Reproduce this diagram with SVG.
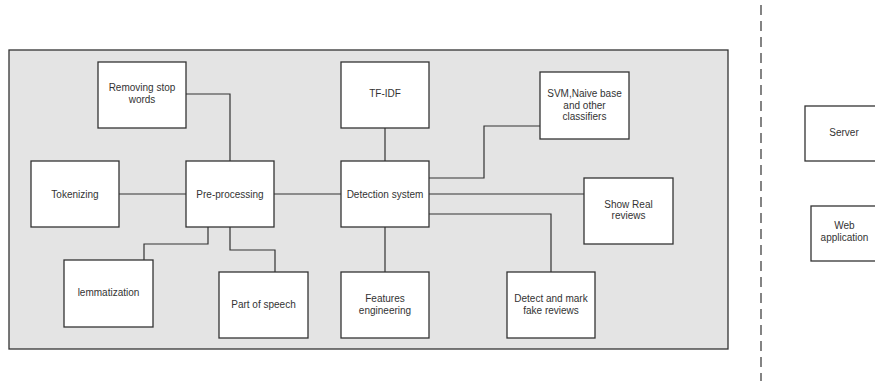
<svg xmlns="http://www.w3.org/2000/svg" width="875" height="381" viewBox="0 0 875 381">
  <style>
    .box { fill: #ffffff; stroke: #333333; stroke-width: 1.3; }
    .frame { fill: #e4e4e4; stroke: #333333; stroke-width: 1.3; }
    .wire { fill: none; stroke: #333333; stroke-width: 1.2; }
    .divider { fill: none; stroke: #333333; stroke-width: 1.2; stroke-dasharray: 10 6; }
    text { font-family: "Liberation Sans", Arial, sans-serif; font-size: 10px; fill: #333333; text-anchor: middle; }
  </style>
  <rect width="875" height="381" fill="#ffffff"/>

  <!-- system boundary -->
  <rect id="system-frame" class="frame" x="9" y="50" width="719" height="299"/>

  <!-- tier divider -->
  <line class="divider" x1="761" y1="5" x2="761" y2="381"/>

  <!-- connectors -->
  <g id="connectors">
    <polyline class="wire" points="186,94 230,94 230,161"/>
    <line class="wire" x1="119" y1="194" x2="186" y2="194"/>
    <polyline class="wire" points="208,227 208,244 144,244 144,260"/>
    <polyline class="wire" points="230,227 230,250 275,250 275,272"/>
    <line class="wire" x1="274" y1="194" x2="341" y2="194"/>
    <line class="wire" x1="385" y1="128" x2="385" y2="161"/>
    <line class="wire" x1="385" y1="227" x2="385" y2="272"/>
    <polyline class="wire" points="429,178 484,178 484,126 540,126"/>
    <line class="wire" x1="429" y1="194" x2="584" y2="194"/>
    <polyline class="wire" points="429,214 551,214 551,272"/>
  </g>

  <g id="removing-stop-words">
    <rect class="box" x="98" y="62" width="88" height="66"/>
    <text x="142" y="91">Removing stop</text>
    <text x="142" y="103">words</text>
  </g>
  <g id="tokenizing">
    <rect class="box" x="31" y="161" width="88" height="66"/>
    <text x="75" y="197.5">Tokenizing</text>
  </g>
  <g id="pre-processing">
    <rect class="box" x="186" y="161" width="88" height="66"/>
    <text x="230" y="197.5">Pre-processing</text>
  </g>
  <g id="lemmatization">
    <rect class="box" x="64" y="260" width="89" height="67"/>
    <text x="108.5" y="296">lemmatization</text>
  </g>
  <g id="part-of-speech">
    <rect class="box" x="219" y="272" width="89" height="66"/>
    <text x="263.5" y="307.5">Part of speech</text>
  </g>
  <g id="tf-idf">
    <rect class="box" x="341" y="62" width="88" height="66"/>
    <text x="385" y="97">TF-IDF</text>
  </g>
  <g id="detection-system">
    <rect class="box" x="341" y="161" width="88" height="66"/>
    <text x="385" y="197.5">Detection system</text>
  </g>
  <g id="features-engineering">
    <rect class="box" x="341" y="272" width="88" height="66"/>
    <text x="385" y="301.5">Features</text>
    <text x="385" y="313.5">engineering</text>
  </g>
  <g id="classifiers">
    <rect class="box" x="540" y="72" width="89" height="67"/>
    <text x="584.5" y="96.5">SVM,Naive base</text>
    <text x="584.5" y="108.5">and other</text>
    <text x="584.5" y="120">classifiers</text>
  </g>
  <g id="show-real-reviews">
    <rect class="box" x="584" y="178" width="89" height="66"/>
    <text x="628.5" y="207.5">Show Real</text>
    <text x="628.5" y="219">reviews</text>
  </g>
  <g id="detect-fake-reviews">
    <rect class="box" x="507" y="272" width="88" height="66"/>
    <text x="551" y="301.5">Detect and mark</text>
    <text x="551" y="313.5">fake reviews</text>
  </g>
  <g id="server">
    <rect class="box" x="805" y="106" width="88" height="55"/>
    <text x="844" y="136">Server</text>
  </g>
  <g id="web-application">
    <rect class="box" x="811" y="206" width="88" height="55"/>
    <text x="844.5" y="229">Web</text>
    <text x="844.5" y="240.5">application</text>
  </g>
</svg>
